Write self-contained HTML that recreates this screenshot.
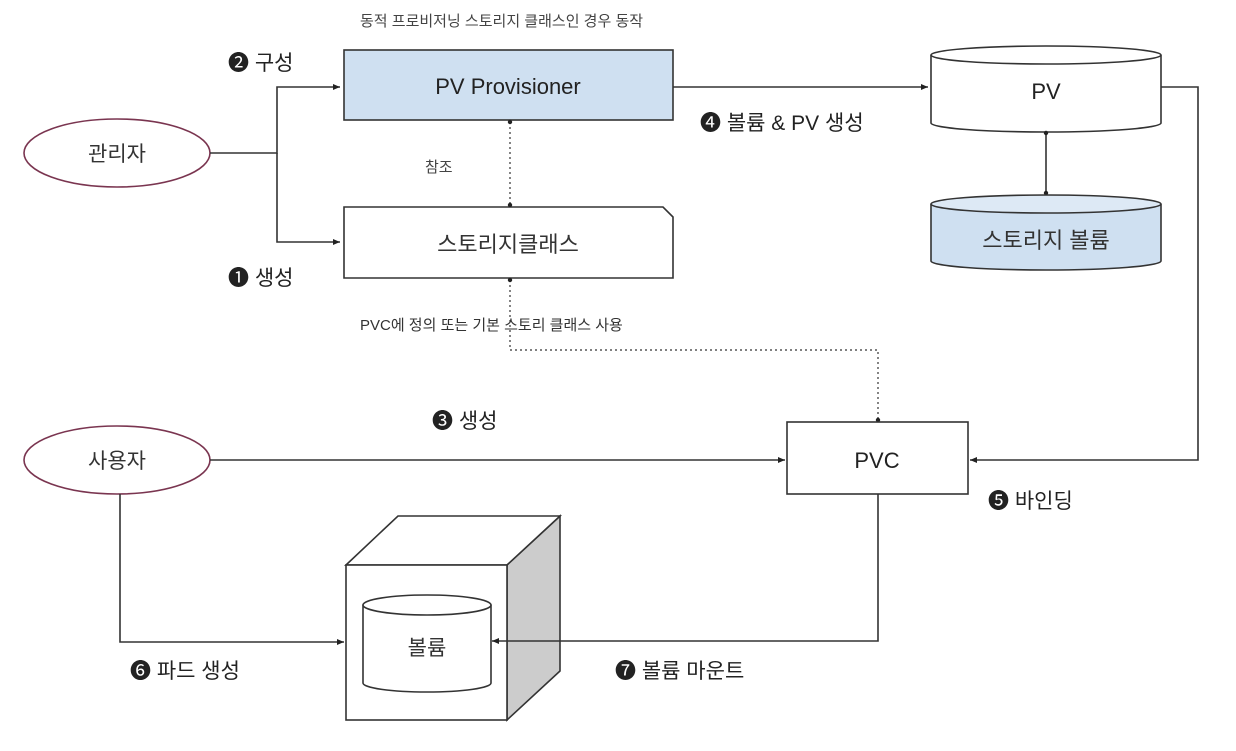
<!DOCTYPE html>
<html><head><meta charset="utf-8"><style>
html,body{margin:0;padding:0;background:#fff;}
svg text{font-family:"Liberation Sans","Noto Sans CJK KR",sans-serif;}
</style></head><body>
<svg width="1236" height="746" viewBox="0 0 1236 746" xmlns="http://www.w3.org/2000/svg">
<defs>
<marker id="a" markerWidth="8" markerHeight="8" refX="7" refY="4" orient="auto" markerUnits="userSpaceOnUse"><path d="M0,1 L7,4 L0,7 Z" fill="#222"/></marker>
<marker id="d" markerWidth="6" markerHeight="6" refX="3" refY="3" markerUnits="userSpaceOnUse"><circle cx="3" cy="3" r="2.2" fill="#222"/></marker>
</defs>
<g stroke="#333" stroke-width="1.6" fill="none">
<!-- 관리자 -->
<ellipse cx="117" cy="153" rx="93" ry="34" stroke="#7a3550"/>
<path d="M210,153 H277 V87 H340" marker-end="url(#a)"/>
<path d="M277,153 V242 H340" marker-end="url(#a)"/>
<!-- provisioner -->
<rect x="344" y="50" width="329" height="70" fill="#cfe0f1"/>
<path d="M344,207 H663 L673,217 V278 H344 Z" fill="#fff"/>
<path d="M510,122 V205" stroke-dasharray="2,3" stroke-width="1.2" marker-start="url(#d)" marker-end="url(#d)"/>
<path d="M510,280 V350 H878 V420" stroke-dasharray="2,3" stroke-width="1.2" marker-start="url(#d)" marker-end="url(#d)"/>
<path d="M673,87 H928" marker-end="url(#a)"/>
<!-- PV cylinder -->
<path d="M931,55 V123 A115,9 0 0 0 1161,123 V55" fill="#fff"/>
<ellipse cx="1046" cy="55" rx="115" ry="9" fill="#fff"/>
<path d="M1046,133 V193" marker-start="url(#d)" marker-end="url(#d)"/>
<!-- storage cylinder -->
<path d="M931,204 V261 A115,9 0 0 0 1161,261 V204" fill="#cfe0f1"/>
<ellipse cx="1046" cy="204" rx="115" ry="9" fill="#dde9f5"/>
<path d="M1161,87 H1198 V460 H970" marker-end="url(#a)"/>
<!-- 사용자 -->
<ellipse cx="117" cy="460" rx="93" ry="34" stroke="#7a3550"/>
<path d="M210,460 H785" marker-end="url(#a)"/>
<rect x="787" y="422" width="181" height="72" fill="#fff"/>
<path d="M120,494 V642 H344" marker-end="url(#a)"/>
<!-- cube -->
<path d="M507,565 L560,516 V671 L507,720 Z" fill="#ccc"/>
<path d="M346,565 L398,516 H560 L507,565 Z" fill="#fff"/>
<rect x="346" y="565" width="161" height="155" fill="#fff"/>
<path d="M363,605 V683 A64,9 0 0 0 491,683 V605" fill="#fff"/>
<ellipse cx="427" cy="605" rx="64" ry="10" fill="#fff"/>
<path d="M878,494 V641 H492" marker-end="url(#a)"/>
</g>
<g fill="#222">
<text x="360" y="26" font-size="15" fill="#444">동적 프로비저닝 스토리지 클래스인 경우 동작</text>
<text x="228" y="70" font-size="21">❷ 구성</text>
<text x="228" y="285" font-size="21">❶ 생성</text>
<text x="508" y="94" font-size="22" text-anchor="middle">PV Provisioner</text>
<text x="508" y="252" font-size="22" text-anchor="middle" fill="#333">스토리지클래스</text>
<text x="425" y="172" font-size="15" fill="#444">참조</text>
<text x="360" y="330" font-size="15" fill="#333">PVC에 정의 또는 기본 스토리 클래스 사용</text>
<text x="117" y="161" font-size="21" text-anchor="middle" fill="#333">관리자</text>
<text x="117" y="468" font-size="21" text-anchor="middle" fill="#333">사용자</text>
<text x="1046" y="99" font-size="22" text-anchor="middle">PV</text>
<text x="1046" y="248" font-size="22" text-anchor="middle" fill="#333">스토리지 볼륨</text>
<text x="700" y="130" font-size="21">❹ 볼륨 &amp; PV 생성</text>
<text x="432" y="428" font-size="21">❸ 생성</text>
<text x="877" y="468" font-size="22" text-anchor="middle">PVC</text>
<text x="988" y="508" font-size="21">❺ 바인딩</text>
<text x="427" y="655" font-size="21" text-anchor="middle" fill="#333">볼륨</text>
<text x="130" y="678" font-size="21">❻ 파드 생성</text>
<text x="615" y="678" font-size="21">❼ 볼륨 마운트</text>
</g>
</svg>
</body></html>
